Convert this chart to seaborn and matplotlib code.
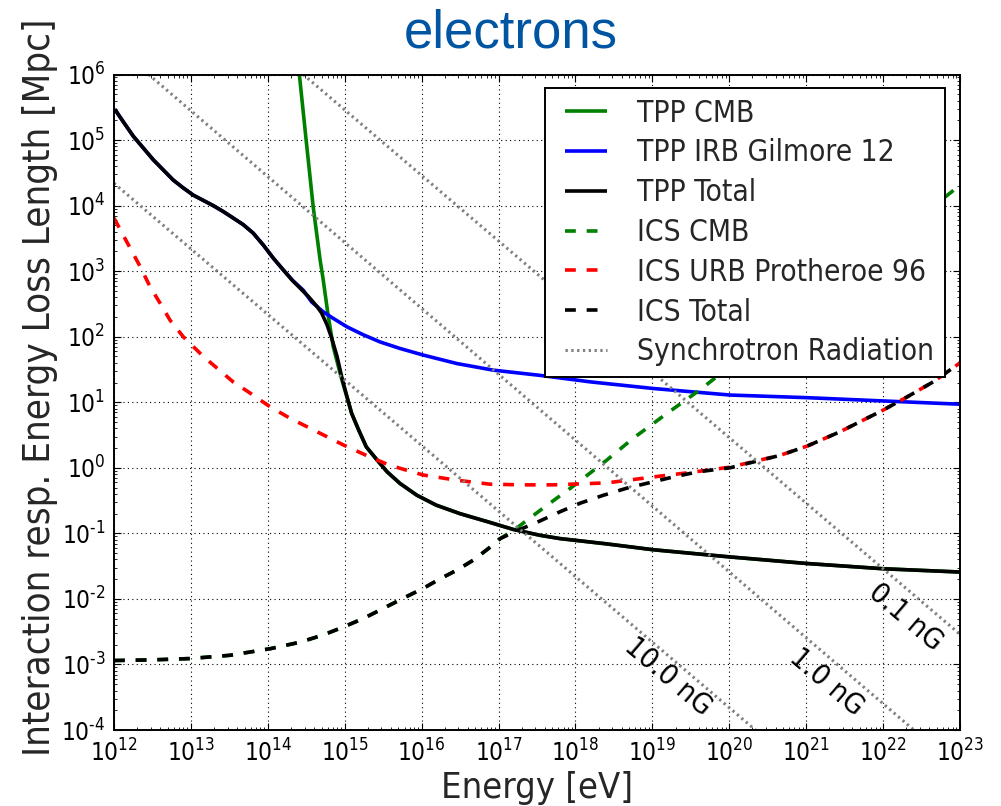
import numpy as np
import pandas as pd
import matplotlib
matplotlib.use("Agg")
import matplotlib.pyplot as plt
import seaborn as sns
from matplotlib import font_manager as fm
from matplotlib.ticker import LogLocator, NullFormatter

# ---- data (log10 energy [eV], log10 length [Mpc]) ----
tpp_cmb_logE = [14.41, 14.50, 14.59, 14.68, 14.72, 14.78, 14.85, 14.94, 15.00, 15.03,
                15.09, 15.18, 15.28, 15.42, 15.55, 15.72, 15.94, 16.19, 16.50, 16.85,
                17.19, 17.54, 17.80, 18.40, 19.01, 20.01, 21.01, 22.00, 23.00]
tpp_cmb_logL = [6.00, 4.98, 3.98, 3.17, 2.87, 2.36, 1.85, 1.44, 1.19, 1.08,
                0.83, 0.58, 0.32, 0.12, -0.06, -0.24, -0.42, -0.57, -0.70, -0.82,
                -0.94, -1.03, -1.08, -1.16, -1.25, -1.36, -1.46, -1.54, -1.59]

tpp_irb_logE = [12.01, 12.12, 12.25, 12.38, 12.51, 12.64, 12.77, 12.90, 13.03, 13.16,
                13.29, 13.42, 13.55, 13.68, 13.81, 13.94, 14.07, 14.20, 14.33, 14.46,
                14.57, 14.72, 14.85, 15.03, 15.24, 15.46, 15.72, 16.02, 16.46, 16.93,
                17.54, 18.20, 19.01, 20.01, 21.01, 22.00, 23.00]
tpp_irb_logL = [5.47, 5.28, 5.06, 4.88, 4.70, 4.545, 4.39, 4.27, 4.16, 4.08,
                4.00, 3.91, 3.81, 3.71, 3.58, 3.40, 3.20, 3.02, 2.85, 2.71,
                2.53, 2.38, 2.28, 2.15, 2.03, 1.92, 1.82, 1.72, 1.59, 1.49,
                1.41, 1.31, 1.21, 1.11, 1.07, 1.02, 0.97]

tpp_tot_logE = [12.01, 12.12, 12.25, 12.38, 12.51, 12.64, 12.77, 12.90, 13.03, 13.16,
                13.29, 13.42, 13.55, 13.68, 13.81, 13.94, 14.07, 14.20, 14.31, 14.42,
                14.53, 14.64, 14.70, 14.77, 14.83, 14.90, 14.96, 15.03, 15.09, 15.18,
                15.28, 15.42, 15.55, 15.72, 15.94, 16.19, 16.50, 16.85, 17.19, 17.54,
                17.80, 18.40, 19.01, 20.01, 21.01, 22.00, 23.00]
tpp_tot_logL = [5.47, 5.28, 5.06, 4.88, 4.70, 4.545, 4.39, 4.27, 4.16, 4.08,
                4.00, 3.91, 3.81, 3.71, 3.58, 3.40, 3.20, 3.02, 2.87, 2.74,
                2.61, 2.46, 2.36, 2.18, 1.98, 1.70, 1.39, 1.08, 0.83, 0.58,
                0.32, 0.12, -0.06, -0.24, -0.42, -0.57, -0.70, -0.82, -0.94, -1.03,
                -1.08, -1.16, -1.25, -1.36, -1.46, -1.54, -1.59]

ics_cmb_logE = [12.00, 12.50, 12.99, 13.51, 14.03, 14.42, 14.72, 14.98, 15.24, 15.46,
                15.76, 16.02, 16.23, 16.46, 16.67, 16.87, 17.00, 17.28, 17.54, 17.97,
                18.41, 18.75, 19.19, 19.62, 20.50, 21.50, 22.50, 23.00]
ics_cmb_logL = [-2.94, -2.93, -2.91, -2.86, -2.76, -2.66, -2.55, -2.43, -2.30, -2.17,
                -1.99, -1.84, -1.70, -1.56, -1.41, -1.23, -1.10, -0.88, -0.65, -0.28,
                0.12, 0.45, 0.83, 1.19, 2.00, 2.93, 3.85, 4.31]

ics_urb_logE = [12.00, 12.165, 12.34, 12.47, 12.60, 12.73, 12.90, 13.16, 13.55, 13.77,
                14.03, 14.29, 14.64, 14.98, 15.28, 15.58, 16.02, 16.46, 16.89, 17.30,
                17.71, 18.41, 19.01, 19.50, 20.01, 20.66, 21.01, 21.44, 22.00, 22.31,
                22.65, 23.00]
ics_urb_logL = [3.81, 3.45, 3.07, 2.76, 2.51, 2.25, 2.00, 1.70, 1.31, 1.14,
                0.93, 0.755, 0.55, 0.35, 0.19, 0.04, -0.11, -0.19, -0.25, -0.26,
                -0.26, -0.23, -0.14, -0.07, 0.01, 0.19, 0.33, 0.55, 0.88, 1.08,
                1.31, 1.60]

ics_tot_logE = [12.00, 12.50, 12.99, 13.51, 14.03, 14.42, 14.72, 14.98, 15.24, 15.46,
                15.76, 16.02, 16.23, 16.46, 16.67, 16.87, 17.02, 17.28, 17.54, 17.80,
                18.06, 18.36, 18.67, 19.27, 19.60, 20.01, 20.66, 21.01, 21.44, 22.00,
                22.31, 22.65, 23.00]
ics_tot_logL = [-2.94, -2.93, -2.91, -2.86, -2.76, -2.66, -2.55, -2.43, -2.30, -2.17,
                -1.99, -1.84, -1.70, -1.56, -1.41, -1.23, -1.08, -0.94, -0.81, -0.67,
                -0.54, -0.42, -0.31, -0.14, -0.06, 0.00, 0.19, 0.33, 0.55, 0.88,
                1.08, 1.31, 1.60]

# synchrotron loss length end points for each field strength
sync_fields = ["10.0 nG", "1.0 nG", "0.1 nG"]
sync_logE = [[12.00, 20.34], [12.45, 22.40], [14.46, 23.00]]
sync_logL = [[4.34, -4.00], [6.00, -4.00], [6.00, -2.54]]
sync_label_logE = [19.20, 21.27, 22.29]
sync_label_logL = [-3.195, -3.27, -2.28]

x_ticks_exp = list(range(12, 24))
y_ticks_exp = list(range(-4, 7))

# ---- fonts: prefer the condensed DejaVu face when it is installed ----
cond_path = None
for f in fm.fontManager.ttflist:
    if f.fname.replace("\\", "/").split("/")[-1] == "DejaVuSansCondensed.ttf":
        cond_path = f.fname
        break
if cond_path is not None:
    text_font = fm.FontProperties(fname=cond_path)
    cond_name = text_font.get_name()
    scale = 1.0 / 0.9
else:
    text_font = fm.FontProperties(family="DejaVu Sans")
    cond_name = None
    scale = 1.0


def tfont(size):
    p = text_font.copy()
    p.set_size(size * scale)
    return p


# ---- style ----
sns.set_style("ticks")
plt.rcParams.update({
    "font.family": ["DejaVu Sans"],
    "xtick.direction": "in",
    "ytick.direction": "in",
    "xtick.top": True,
    "ytick.right": True,
    "xtick.major.size": 5,
    "ytick.major.size": 5,
    "xtick.minor.size": 2.5,
    "ytick.minor.size": 2.5,
    "xtick.major.width": 0.8,
    "ytick.major.width": 0.8,
    "xtick.minor.width": 0.6,
    "ytick.minor.width": 0.6,
    "xtick.color": "black",
    "ytick.color": "black",
    "axes.edgecolor": "black",
    "axes.linewidth": 1.4,
    "lines.solid_capstyle": "butt",
    "lines.dash_capstyle": "butt",
})
if cond_name is not None:
    plt.rcParams.update({
        "mathtext.fontset": "custom",
        "mathtext.rm": f"{cond_name}:stretch=condensed",
        "mathtext.it": f"{cond_name}:italic:stretch=condensed",
        "mathtext.bf": f"{cond_name}:bold:stretch=condensed",
        "mathtext.sf": f"{cond_name}:stretch=condensed",
        "mathtext.fallback": "stixsans",
    })
    tick_size = 17.5
else:
    plt.rcParams["mathtext.fontset"] = "dejavusans"
    tick_size = 16.5

fig = plt.figure(figsize=(10.01, 8.06), dpi=100)
ax = fig.add_axes([114 / 1001, 1 - 730 / 806, 846 / 1001, 655.5 / 806])


def draw(logE, logL, color, ls, label, lw=2.6):
    df = pd.DataFrame({"E": 10.0 ** np.asarray(logE), "L": 10.0 ** np.asarray(logL)})
    sns.lineplot(data=df, x="E", y="L", ax=ax, color=color, linestyle=ls,
                 linewidth=lw, label=label, sort=False, estimator=None)


dash = (0, (3.0, 3.0))
draw(tpp_cmb_logE, tpp_cmb_logL, "green", "-", "TPP CMB")
draw(tpp_irb_logE, tpp_irb_logL, "blue", "-", "TPP IRB Gilmore 12")
draw(tpp_tot_logE, tpp_tot_logL, "black", "-", "TPP Total")
draw(ics_cmb_logE, ics_cmb_logL, "green", dash, "ICS CMB")
draw(ics_urb_logE, ics_urb_logL, "red", dash, "ICS URB Protheroe 96")
draw(ics_tot_logE, ics_tot_logL, "black", dash, "ICS Total")
for i, name in enumerate(sync_fields):
    draw(sync_logE[i], sync_logL[i], "#808080", (0, (0.75, 1.15)),
         "Synchrotron Radiation" if i == 0 else None, lw=2.2)
    ax.text(10.0 ** sync_label_logE[i], 10.0 ** sync_label_logL[i], name,
            rotation=-40.4, rotation_mode="anchor", ha="center", va="center",
            fontproperties=tfont(19), color="black")

ax.set_xscale("log")
ax.set_yscale("log")
ax.set_xlim(1e12, 1e23)
ax.set_ylim(1e-4, 1e6)
ax.set_xticks([10.0 ** e for e in x_ticks_exp])
ax.set_yticks([10.0 ** e for e in y_ticks_exp])
ax.set_xticklabels([f"$10^{{{e}}}$" for e in x_ticks_exp])
ax.set_yticklabels([f"$10^{{{e}}}$" if e >= 0 else f"$10^{{\\text{{-}}{-e}}}$"
                    for e in y_ticks_exp])
ax.xaxis.set_minor_locator(LogLocator(base=10, subs=np.arange(2, 10), numticks=30))
ax.yaxis.set_minor_locator(LogLocator(base=10, subs=np.arange(2, 10), numticks=30))
ax.xaxis.set_minor_formatter(NullFormatter())
ax.yaxis.set_minor_formatter(NullFormatter())
ax.tick_params(axis="both", which="major", labelsize=tick_size)
ax.tick_params(axis="x", which="major", pad=7)
ax.tick_params(axis="y", which="major", pad=6)
ax.grid(True, which="major", color="black", linestyle=(0, (1, 3)), linewidth=0.8)

ax.set_xlabel("Energy [eV]", fontproperties=tfont(23.4), labelpad=3)
ax.set_ylabel("Interaction resp. Energy Loss Length [Mpc]", fontproperties=tfont(24.75))
ax.yaxis.set_label_coords(-0.066, 0.523)

# legend geometry in pixels
leg_size = 19.3
fs_px = leg_size * scale * 100 / 72
leg = ax.legend(loc="upper right", bbox_to_anchor=(945 / 1001, 1 - 88 / 806),
                bbox_transform=fig.transFigure, prop=tfont(leg_size), frameon=True,
                fancybox=False, numpoints=2,
                handlelength=42 / fs_px + 0.6, handletextpad=22 / fs_px,
                labelspacing=40.6 / fs_px - 1.0, borderpad=10.5 / fs_px,
                borderaxespad=0.0)
leg.get_frame().set_edgecolor("black")
leg.get_frame().set_linewidth(1.4)
leg.get_frame().set_alpha(1.0)

fig.text(511 / 1001, 1 - 47 / 806, "electrons", ha="center", va="baseline",
         fontsize=38, color="#0055a2", family=["Liberation Sans", "DejaVu Sans"])

fig.savefig("out.png", dpi=100)
